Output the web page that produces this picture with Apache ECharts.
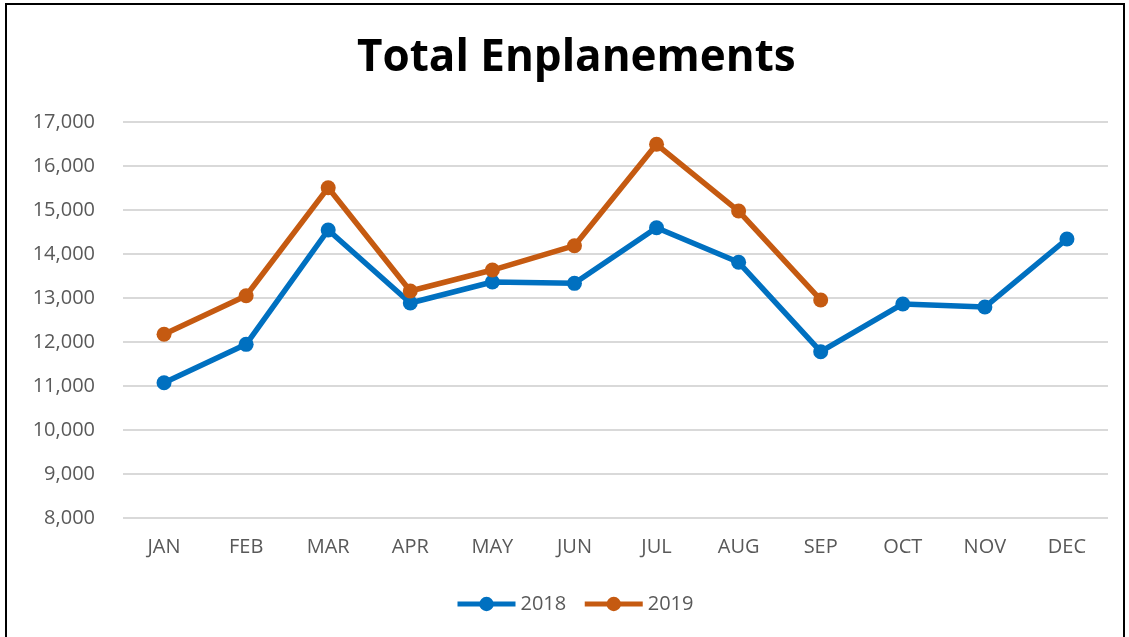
<!DOCTYPE html>
<html><head><meta charset="utf-8">
<script src="https://cdn.jsdelivr.net/npm/echarts@6/dist/echarts.min.js"></script>
<style>
html,body{margin:0;padding:0;background:#fff;}
#frame{position:absolute;left:5px;top:3px;width:1120px;height:660px;border:2px solid #000;box-sizing:border-box;}
#c{position:absolute;left:0;top:0;width:1129px;height:637px;}
</style></head>
<body>
<div id="frame"></div>
<div id="c"></div>
<script>
const categories = ['JAN','FEB','MAR','APR','MAY','JUN','JUL','AUG','SEP','OCT','NOV','DEC'];
const series2018 = [11075, 11947, 14545, 12886, 13364, 13333, 14598, 13811, 11780, 12864, 12795, 14341];
const series2019 = [12175, 13052, 15507, 13159, 13636, 14189, 16493, 14977, 12955];
const yTicks = {min: 8000, max: 17000, interval: 1000};

const chart = echarts.init(document.getElementById('c'));
const font = 'Open Sans';
chart.setOption({
  animation: false,
  backgroundColor: 'transparent',
  title: {
    text: 'Total Enplanements', left: 352, top: 31,
    textStyle: {fontFamily: font, fontWeight: 'bold', fontSize: 44, color: '#000'}
  },
  legend: {
    bottom: 18, left: 450, itemWidth: 58, itemHeight: 18, itemGap: 16,
    lineStyle: {width: 5},
    textStyle: {fontFamily: font, fontSize: 20, color: '#595959'},
    data: ['2018','2019']
  },
  grid: {left: 123, right: 21, top: 122, bottom: 119, containLabel: false},
  xAxis: {
    type: 'category', data: categories, boundaryGap: true,
    axisLine: {show: false}, axisTick: {show: false},
    axisLabel: {fontFamily: font, fontSize: 20, color: '#595959', margin: 19}
  },
  yAxis: {
    type: 'value', min: yTicks.min, max: yTicks.max, interval: yTicks.interval,
    axisLine: {show: false}, axisTick: {show: false},
    splitLine: {lineStyle: {color: '#d9d9d9', width: 2}},
    axisLabel: {fontFamily: font, fontSize: 20, color: '#595959', margin: 28,
      formatter: v => v.toLocaleString('en-US')}
  },
  series: [
    {name: '2018', type: 'line', data: series2018, symbol: 'circle', symbolSize: 15,
     itemStyle: {color: '#0070c0'}, lineStyle: {width: 5.5, color: '#0070c0'}},
    {name: '2019', type: 'line', data: series2019, symbol: 'circle', symbolSize: 15,
     itemStyle: {color: '#c55a11'}, lineStyle: {width: 5.5, color: '#c55a11'}}
  ]
});
</script>
</body></html>
